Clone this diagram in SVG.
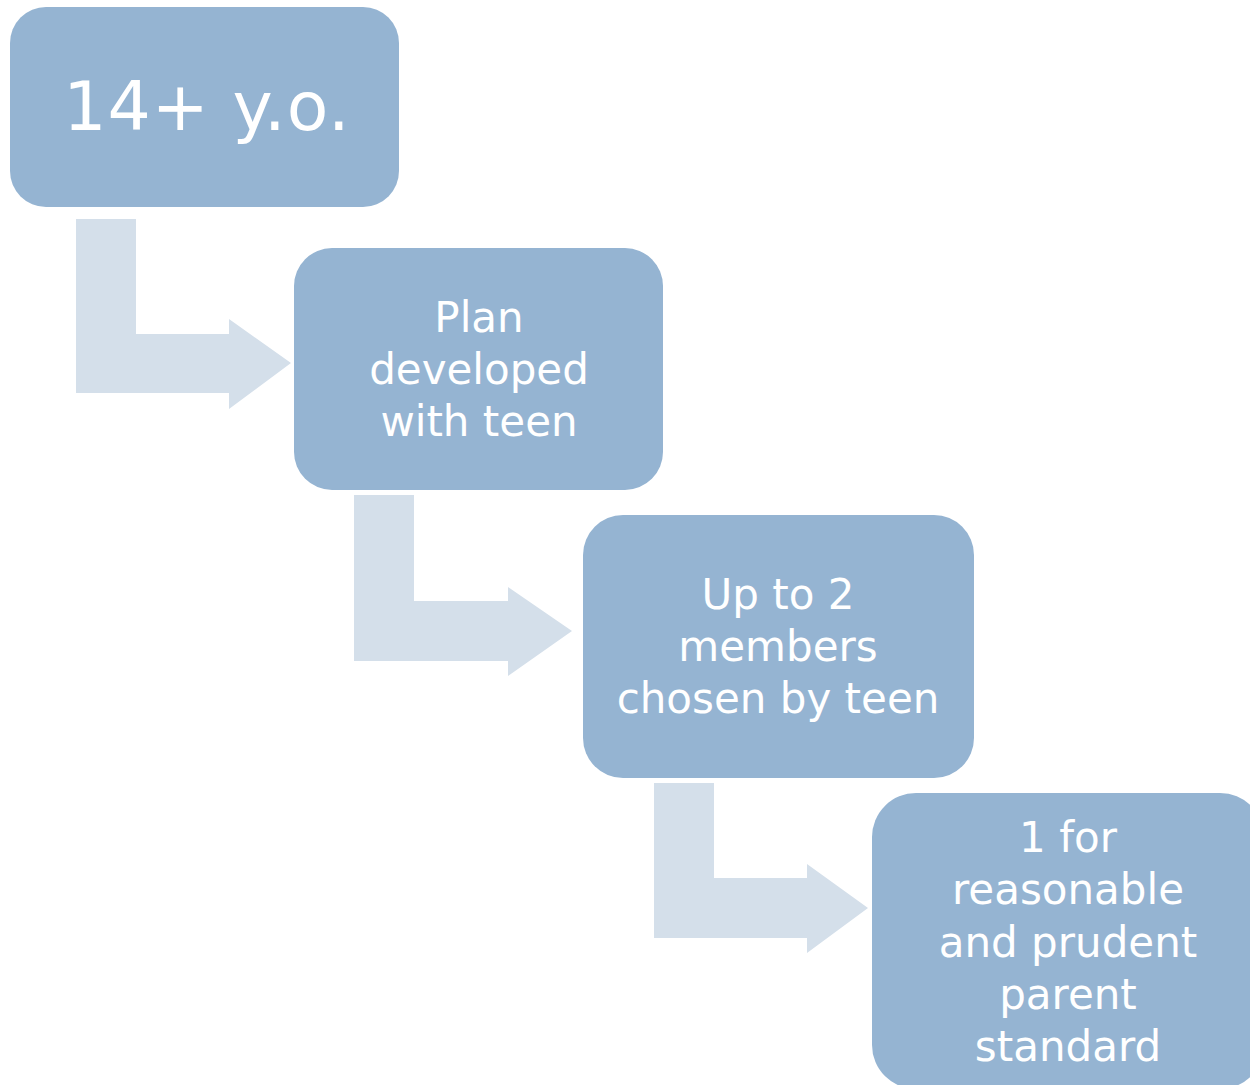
<svg xmlns="http://www.w3.org/2000/svg" width="1250" height="1085" viewBox="0 0 1250 1085">
<style>
.box{fill:#95B4D2}
.arr{fill:#D4DFEA}
.t{fill:#FFFFFF;font-family:"DejaVu Sans","Liberation Sans",sans-serif;font-size:42px;text-anchor:middle}
.big{font-size:68px;letter-spacing:1px}
</style>
<rect width="1250" height="1085" fill="#FFFFFF"/>
<g id="connectors">
<polygon class="arr" points="76,219 136,219 136,334 229,334 229,319 291,363 229,409 229,393 76,393"/>
<polygon class="arr" points="354,495 414,495 414,601 508,601 508,587 572,631 508,676 508,661 354,661"/>
<polygon class="arr" points="654,783 714,783 714,878 807,878 807,864 868,908 807,953 807,938 654,938"/>
</g>
<g id="node1">
<rect class="box" x="10" y="7" width="389" height="200" rx="36"/>
<text class="t big" x="207" y="130">14+ y.o.</text>
</g>
<g id="node2">
<rect class="box" x="294" y="248" width="369" height="242" rx="38"/>
<text class="t" x="479" y="332">Plan</text>
<text class="t" x="479" y="384">developed</text>
<text class="t" x="479" y="436">with teen</text>
</g>
<g id="node3">
<rect class="box" x="583" y="515" width="391" height="263" rx="40"/>
<text class="t" x="778" y="609">Up to 2</text>
<text class="t" x="778" y="661">members</text>
<text class="t" x="778" y="713">chosen by teen</text>
</g>
<g id="node4">
<rect class="box" x="872" y="793" width="392" height="296" rx="44"/>
<text class="t" x="1068" y="852">1 for</text>
<text class="t" x="1068" y="904">reasonable</text>
<text class="t" x="1068" y="957">and prudent</text>
<text class="t" x="1068" y="1009">parent</text>
<text class="t" x="1068" y="1061">standard</text>
</g>
</svg>
